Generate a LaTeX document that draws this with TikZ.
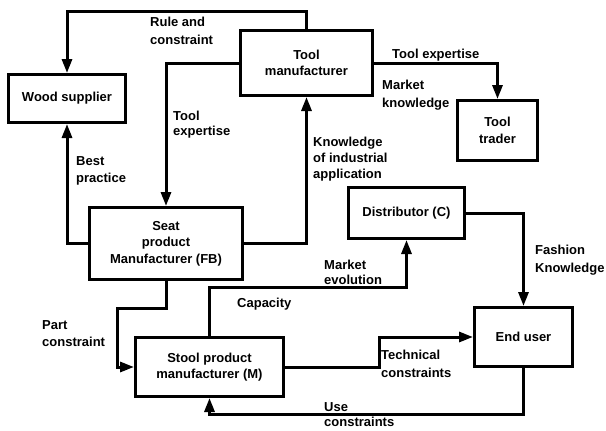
\documentclass[tikz,border=0pt]{standalone}
\usepackage{fontspec}
\setmainfont{Liberation Sans}
\usetikzlibrary{arrows.meta}
\begin{document}
\begin{tikzpicture}[x=1pt,y=-1pt,
  box/.style={draw,line width=3pt,inner sep=1pt,align=center,font=\fontsize{13}{16.5}\selectfont\bfseries},
  conn/.style={line width=3pt,-{Triangle[length=14pt,width=10pt]}},
  lbl/.style={anchor=north west,inner sep=0pt,align=left,font=\fontsize{13}{17.5}\selectfont\bfseries}]
\useasboundingbox (0,0) rectangle (606,431);
% boxes
\node[box,minimum width=117,minimum height=48] (wood) at (67,98.5) {Wood supplier};
\node[box,minimum width=132,minimum height=65] (toolm) at (306.5,63) {Tool\\manufacturer};
\node[box,minimum width=80,minimum height=60] (trader) at (497.5,130.5) {Tool\\trader};
\node[box,minimum width=153,minimum height=72] (seat) at (166,243.5) {Seat\\product\\Manufacturer (FB)};
\node[box,minimum width=116,minimum height=51] (dist) at (406.5,213) {Distributor (C)};
\node[box,minimum width=148,minimum height=59] (stool) at (209.5,367) {Stool product\\manufacturer (M)};
\node[box,minimum width=98,minimum height=59] (enduser) at (523.5,337) {End user};
% connectors
\draw[conn] (toolm.north) -- ++(0,-18) -| (wood.north);
\draw[conn] (toolm.west) -| (seat.north);
\draw[conn] (seat.west) -| (wood.south);
\draw[conn] (seat.east) -| (toolm.south);
\draw[conn] (toolm.east) -| (trader.north);
\draw[conn] (seat.south) -- ++(0,27) -- ++(-49,0) |- (stool.west);
\draw[conn] (stool.north) -- ++(0,-49) -| (dist.south);
\draw[conn] (dist.east) -| (enduser.north);
\draw[conn] (stool.east) -- ++(94,0) |- (enduser.west);
\draw[conn] (enduser.south) -- ++(0,46) -| (stool.south);
% labels
\node[lbl] (l1) at (150,17) {Rule and\\constraint};
\node[lbl] (l2) at (392,49) {Tool expertise};
\node[lbl] (l3) at (382,80) {Market\\knowledge};
\node[lbl,font=\fontsize{13}{15}\selectfont\bfseries] (l4) at (173,111) {Tool\\expertise};
\node[lbl] (l5) at (76,156) {Best\\practice};
\node[lbl,font=\fontsize{13}{16}\selectfont\bfseries] (l6) at (313,137) {Knowledge\\of industrial\\application};
\node[lbl,font=\fontsize{13}{15}\selectfont\bfseries] (l7) at (324,260) {Market\\evolution};
\node[lbl] (l8) at (237,298) {Capacity};
\node[lbl] (l9) at (535,245) {Fashion\\Knowledge};
\node[lbl] (l10) at (42,320) {Part\\constraint};
\node[lbl] (l11) at (381,350) {Technical\\constraints};
\node[lbl,font=\fontsize{13}{15}\selectfont\bfseries] (l12) at (324,402) {Use\\constraints};
\end{tikzpicture}
\end{document}
